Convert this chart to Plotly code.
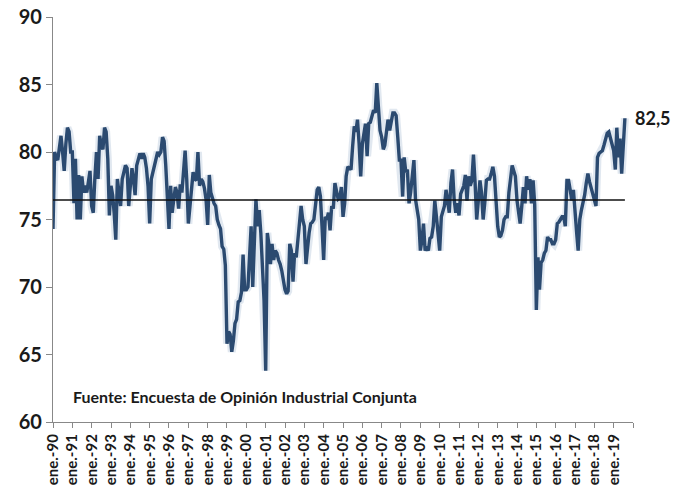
import pandas as pd
import plotly.graph_objects as go

# Monthly index values (Jan 1990 - Aug 2019)
y1990 = [74.3, 80.0, 79.6, 79.4, 80.3, 81.2, 80.0, 78.6, 80.6, 81.8, 81.5, 80.0]
y1991 = [80.0, 76.2, 79.5, 75.0, 78.3, 75.0, 78.2, 77.0, 77.5, 77.0, 77.8, 78.6]
y1992 = [76.0, 75.5, 78.0, 80.0, 78.0, 81.2, 80.5, 80.2, 81.8, 81.5, 79.5, 75.3]
y1993 = [77.5, 76.8, 75.5, 73.5, 78.0, 77.0, 76.0, 78.0, 78.5, 79.0, 78.8, 76.0]
y1994 = [77.5, 78.8, 78.0, 76.8, 79.0, 79.4, 79.9, 79.5, 79.9, 79.6, 78.8, 77.5]
y1995 = [74.7, 78.0, 78.5, 79.0, 79.5, 80.0, 79.8, 80.0, 81.1, 80.8, 79.0, 76.8]
y1996 = [74.3, 77.5, 75.5, 76.5, 77.4, 77.0, 75.8, 77.6, 77.0, 78.5, 80.1, 78.0]
y1997 = [74.7, 76.0, 77.5, 78.5, 78.0, 77.9, 80.0, 77.5, 78.0, 77.8, 77.3, 76.5]
y1998 = [74.6, 78.3, 77.0, 76.5, 76.2, 76.0, 75.0, 74.6, 74.3, 73.0, 72.8, 71.6]
y1999 = [65.8, 66.7, 66.5, 65.2, 66.0, 67.3, 67.6, 68.9, 69.0, 69.6, 72.4, 69.8]
y2000 = [69.8, 70.0, 72.4, 74.5, 70.0, 73.7, 76.5, 74.5, 75.7, 74.0, 71.5, 69.0]
y2001 = [63.8, 74.0, 73.2, 71.7, 73.2, 72.0, 72.7, 72.5, 72.0, 71.7, 71.2, 70.5]
y2002 = [69.8, 69.5, 69.7, 73.2, 72.7, 70.4, 72.5, 72.2, 73.5, 74.5, 76.0, 75.0]
y2003 = [74.5, 71.7, 73.0, 74.0, 74.7, 74.8, 75.0, 76.0, 77.2, 77.4, 76.7, 74.5]
y2004 = [72.0, 75.2, 75.0, 75.5, 74.2, 76.0, 75.8, 77.7, 77.2, 76.5, 76.6, 77.4]
y2005 = [75.2, 76.2, 78.2, 78.9, 78.8, 78.7, 80.4, 81.9, 81.5, 82.4, 80.6, 78.2]
y2006 = [80.6, 81.5, 82.1, 79.7, 82.1, 82.2, 82.6, 83.1, 82.9, 85.1, 83.3, 81.6]
y2007 = [81.1, 80.2, 80.5, 81.6, 82.4, 81.6, 82.4, 82.9, 82.9, 82.7, 81.1, 79.4]
y2008 = [79.4, 76.7, 79.6, 78.5, 78.7, 76.2, 77.0, 78.2, 79.4, 76.5, 75.5, 75.0]
y2009 = [72.7, 73.5, 74.7, 72.7, 73.0, 72.7, 73.6, 73.7, 74.5, 76.4, 75.2, 74.0]
y2010 = [72.7, 75.2, 75.5, 76.0, 77.2, 76.4, 75.5, 77.7, 78.7, 76.5, 75.5, 76.2]
y2011 = [75.3, 76.9, 77.2, 77.5, 78.3, 76.4, 78.2, 77.5, 77.9, 79.8, 77.7, 75.0]
y2012 = [76.4, 77.9, 77.0, 75.0, 76.2, 77.9, 78.0, 78.0, 78.4, 78.9, 78.2, 75.9]
y2013 = [74.5, 73.7, 73.8, 74.2, 75.0, 75.2, 75.2, 77.0, 78.2, 79.0, 78.6, 78.2]
y2014 = [76.4, 75.5, 74.7, 76.0, 77.4, 76.2, 78.2, 77.2, 78.0, 76.2, 77.9, 76.1]
y2015 = [68.3, 72.2, 69.8, 71.8, 72.0, 72.5, 72.7, 73.7, 73.5, 73.5, 73.2, 73.2]
y2016 = [73.5, 74.7, 74.8, 75.0, 75.2, 75.2, 74.5, 77.9, 77.9, 77.2, 76.4, 77.2]
y2017 = [75.2, 74.0, 72.7, 75.0, 75.7, 76.2, 76.8, 77.7, 78.4, 77.8, 77.4, 76.9]
y2018 = [76.5, 76.0, 79.6, 79.9, 80.0, 80.1, 80.5, 81.1, 81.4, 81.5, 81.1, 80.5]
y2019 = [80.1, 78.7, 81.8, 79.6, 81.0, 78.4, 80.0, 82.5]

average_value = 76.45
last_label = "82,5"
source_text = "Fuente: Encuesta de Opinión Industrial Conjunta"

years = list(range(1990, 2020))
tick_labels = ["ene.-%02d" % (y % 100) for y in years]

values = (y1990 + y1991 + y1992 + y1993 + y1994 + y1995 + y1996 + y1997 + y1998
          + y1999 + y2000 + y2001 + y2002 + y2003 + y2004 + y2005 + y2006 + y2007
          + y2008 + y2009 + y2010 + y2011 + y2012 + y2013 + y2014 + y2015 + y2016
          + y2017 + y2018 + y2019)
dates = pd.date_range("1990-01-01", periods=len(values), freq="MS")

tickvals = [pd.Timestamp(f"{y}-01-01") for y in years] + [pd.Timestamp("2020-01-01")]
ticktext = tick_labels + [""]

line_color = "#2B4A70"
font_family = "Lato, Open Sans, sans-serif"

fig = go.Figure()
# soft shadow under the main line
fig.add_trace(go.Scatter(x=dates, y=values, mode="lines",
                         line=dict(color="rgba(120,150,185,0.22)", width=8),
                         hoverinfo="skip", showlegend=False))
fig.add_trace(go.Scatter(x=dates, y=values, mode="lines",
                         line=dict(color=line_color, width=3.4),
                         showlegend=False))
fig.add_trace(go.Scatter(x=[dates[0], dates[-1]], y=[average_value, average_value],
                         mode="lines", line=dict(color="#111111", width=1.5),
                         showlegend=False))

fig.add_annotation(x=dates[-1], y=values[-1], text="<b>%s</b>" % last_label,
                   showarrow=False, xanchor="left", yanchor="middle", xshift=8,
                   font=dict(family=font_family, size=18, color="#1a1a1a"))
fig.add_annotation(x=0.031, y=0.062, xref="paper", yref="paper",
                   text="<b>%s</b>" % source_text, showarrow=False,
                   xanchor="left", yanchor="middle",
                   font=dict(family=font_family, size=16, color="#1a1a1a"))

fig.update_layout(
    width=677, height=490,
    margin=dict(l=53, r=44, t=17, b=68),
    paper_bgcolor="white", plot_bgcolor="white",
    font=dict(family=font_family, color="#1a1a1a"),
)
fig.update_xaxes(
    type="date", range=[pd.Timestamp("1990-01-01"), pd.Timestamp("2020-01-01")],
    tickmode="array", tickvals=tickvals, ticktext=ticktext, tickangle=-90,
    ticks="outside", ticklen=5, tickcolor="#888888",
    showline=True, linecolor="#888888", linewidth=1.3,
    showgrid=False, zeroline=False, automargin=False,
    tickfont=dict(family=font_family, size=15, color="#1a1a1a", weight="bold"),
)
fig.update_yaxes(
    range=[60, 90], tickvals=[60, 65, 70, 75, 80, 85, 90],
    ticks="outside", ticklen=6, tickcolor="#888888",
    showline=True, linecolor="#888888", linewidth=1.3,
    showgrid=False, zeroline=False, automargin=False,
    tickfont=dict(family=font_family, size=20, color="#1a1a1a", weight="bold"),
)

fig.write_html("out.html", config={"displayModeBar": False},
               post_script="document.body.style.margin='0';document.body.style.overflow='hidden';")
